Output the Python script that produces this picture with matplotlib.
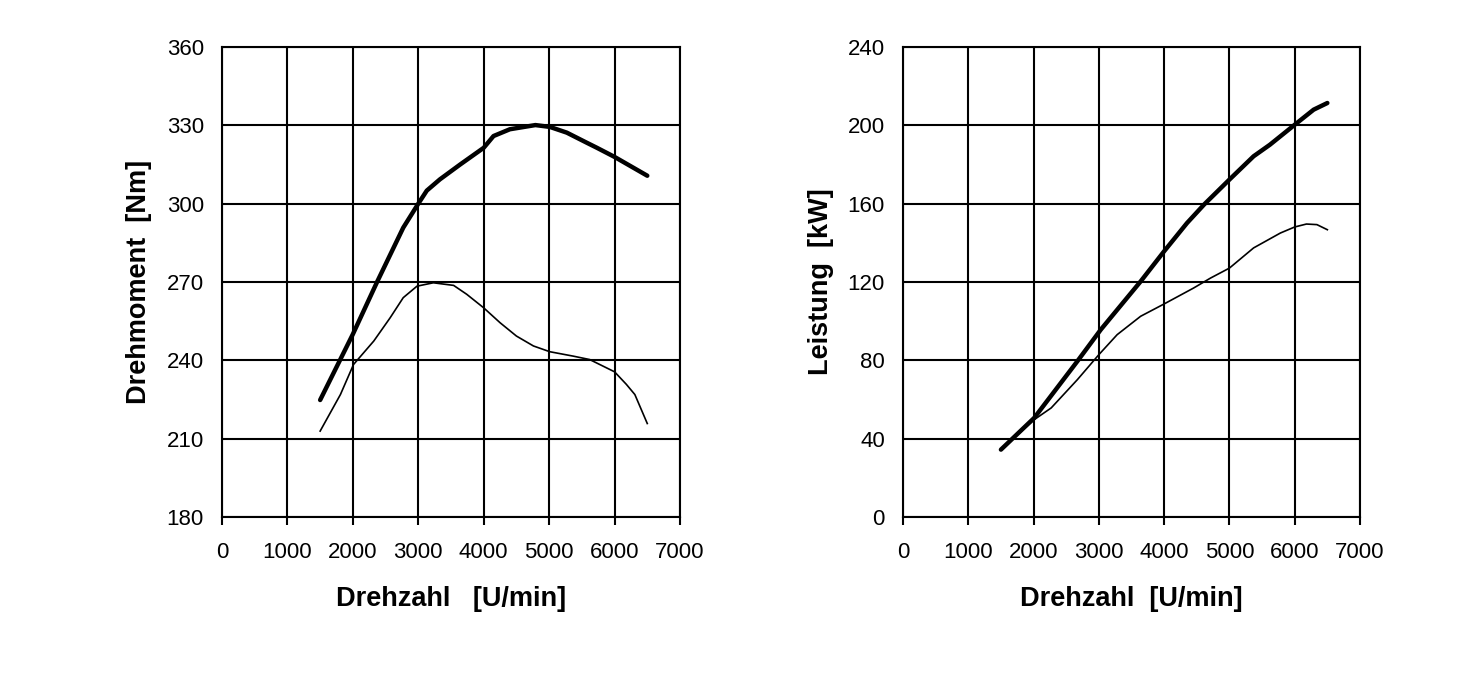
import numpy as np
from matplotlib import pyplot as plt

plt.rcParams['font.family'] = ['Liberation Sans', 'DejaVu Sans']

# Drehmoment (left)
rpm_m_volllast = [1500, 2000, 2370, 2770, 3000, 3130, 3330, 3640, 4000, 4150, 4400, 4790, 5010, 5270, 5570, 5730, 6000, 6500]
m_volllast = [224.8, 250, 270, 290.8, 300, 305, 309.3, 315, 321.4, 325.9, 328.5, 330.1, 329.4, 327.2, 323.4, 321.4, 317.9, 310.7]
rpm_m_teil = [1500, 1810, 2010, 2320, 2570, 2770, 2980, 3230, 3540, 3740, 4000, 4250, 4500, 4760, 5010, 5370, 5620, 6000, 6180, 6310, 6500]
m_teil = [212.9, 226.9, 238.4, 247.4, 256.3, 264, 268.4, 269.7, 268.7, 265.3, 260.1, 254.4, 249.3, 245.5, 243.3, 241.6, 240.3, 235.6, 230.8, 226.9, 215.8]

# Leistung (right)
rpm_p_volllast = [1500, 2010, 2670, 3030, 3640, 4000, 4350, 4610, 5000, 5370, 5620, 6000, 6290, 6500]
p_volllast = [34.4, 50.6, 79.5, 95.7, 120.3, 135.7, 150.1, 159.5, 172.3, 184.2, 190.1, 200.3, 208, 211.4]
rpm_p_teil = [1500, 2010, 2270, 2670, 3000, 3280, 3640, 4000, 4450, 4710, 5000, 5370, 5780, 6000, 6180, 6340, 6500]
p_teil = [34.4, 49.7, 55.7, 70.1, 82.9, 93.1, 102.5, 108.8, 116.9, 122, 127.1, 137.4, 145, 148.1, 149.6, 149.3, 146.7]

fig = plt.figure(figsize=(14.68, 6.76), dpi=100)
W, H = 1468, 676
ax1 = fig.add_axes([222 / W, 1 - 517 / H, 458 / W, 470 / H])
ax2 = fig.add_axes([903 / W, 1 - 517 / H, 457 / W, 470 / H])


def style_ax(ax, ylim, yticks, xlabel, ylabel):
    ax.set_xlim(0, 7000)
    ax.set_xticks(np.arange(0, 7001, 1000))
    ax.set_ylim(*ylim)
    ax.set_yticks(yticks)
    ax.grid(True, color='black', linewidth=1.5)
    for s in ax.spines.values():
        s.set_linewidth(1.5)
    ax.tick_params(axis='x', direction='out', length=6, width=1.5, pad=12, labelsize=16)
    ax.tick_params(axis='y', length=0, pad=13, labelsize=16)
    ax.set_xlabel(xlabel, fontsize=19.5, fontweight='bold')
    ax.xaxis.set_label_coords(0.5, -0.147)
    ax.set_ylabel(ylabel, fontsize=19.5, fontweight='bold')
    ax.yaxis.set_label_coords(-0.152, 0.5)
    ax.set_axisbelow(True)


ax1.plot(rpm_m_volllast, m_volllast, color='black', linewidth=3.2, solid_capstyle='round')
ax1.plot(rpm_m_teil, m_teil, color='black', linewidth=1.2)
style_ax(ax1, (180, 360), np.arange(180, 361, 30), 'Drehzahl   [U/min]', 'Drehmoment  [Nm]')

ax2.plot(rpm_p_volllast, p_volllast, color='black', linewidth=3.2, solid_capstyle='round')
ax2.plot(rpm_p_teil, p_teil, color='black', linewidth=1.2)
style_ax(ax2, (0, 240), np.arange(0, 241, 40), 'Drehzahl  [U/min]', 'Leistung  [kW]')

fig.savefig('out.png', dpi=100)
